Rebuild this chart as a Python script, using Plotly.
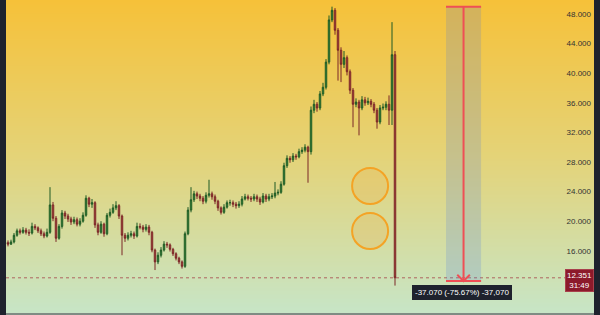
import base64, struct, zlib
import plotly.graph_objects as go

# ---------------- data ----------------
closes = [17.1,16.9,17.2,18.1,18.7,18.5,18.8,18.5,18.4,19.3,
          19.1,18.7,18.3,18.0,18.5,22.2,20.4,17.7,19.3,21.1,
          20.7,20.3,19.9,20.2,19.6,20.0,20.8,23.1,22.3,22.5,
          19.5,18.5,19.6,18.3,20.8,21.2,21.8,22.1,20.7,18.1,
          17.7,18.1,18.3,18.0,19.3,19.2,18.9,19.2,18.5,16.1,
          14.5,15.4,16.1,16.9,16.8,16.2,15.6,15.0,14.5,13.9,
          18.3,21.5,22.9,23.7,23.4,23.1,22.7,23.5,23.7,23.3,
          22.7,21.8,21.2,21.9,22.5,22.5,22.3,22.1,22.3,23.0,
          23.3,23.1,23.0,23.3,23.0,22.6,23.4,23.0,23.3,23.4,
          23.8,23.9,25.0,27.5,28.5,28.3,28.8,28.7,29.4,29.6,
          30.0,29.4,35.0,35.8,35.3,37.2,38.1,41.5,47.2,48.5,
          45.8,43.1,41.2,42.1,40.2,37.7,35.8,36.1,35.3,36.4,
          36.0,36.2,35.8,35.0,33.4,35.3,35.4,35.8,35.0,42.5,
          12.351]
highs = [17.5,17.4,17.5,18.4,19.0,19.0,19.2,19.1,18.9,19.8,
         19.6,19.3,19.0,18.6,19.0,24.6,22.6,20.7,19.6,21.5,
         21.4,21.0,20.6,20.6,20.5,20.4,21.2,23.5,23.3,23.0,
         22.7,19.8,20.0,19.8,21.1,21.7,22.3,22.7,22.3,20.9,
         18.4,18.5,18.7,18.6,19.8,19.7,19.5,19.6,19.5,18.7,
         16.3,15.8,16.5,17.3,17.2,17.0,16.4,15.8,15.2,14.7,
         18.6,21.9,24.6,24.1,24.0,23.7,23.4,23.9,25.6,24.0,
         23.6,22.9,22.0,22.3,22.8,22.9,22.8,22.6,22.7,23.4,
         23.7,23.6,23.4,23.7,23.6,23.3,23.8,23.7,23.7,23.8,
         25.3,24.3,25.4,27.9,28.9,28.8,29.2,29.1,29.8,30.0,
         30.4,30.2,35.5,36.4,36.1,37.6,38.7,41.9,47.8,48.99,
         48.8,46.1,43.5,43.0,42.4,40.5,38.0,36.6,36.4,36.9,
         36.8,36.7,36.5,36.1,35.3,35.7,35.9,36.2,37.0,46.9,
         43.0]
lows = [16.7,16.6,16.8,17.0,17.9,18.2,18.3,18.2,18.0,18.2,
        18.8,18.4,18.0,17.7,17.8,18.3,20.0,17.2,17.5,19.0,
        20.3,19.9,19.5,19.6,19.3,19.3,19.8,20.6,21.9,21.8,
        19.1,18.1,18.3,17.9,18.1,20.5,21.0,21.5,20.3,15.4,
        17.2,17.4,17.8,17.6,17.8,18.9,18.5,18.6,18.1,15.8,
        13.4,14.2,15.1,15.9,16.4,15.9,15.3,14.7,14.2,13.6,
        13.7,18.1,21.2,22.6,23.0,22.7,22.3,22.4,23.2,22.9,
        22.3,21.4,20.9,21.0,21.7,22.1,21.9,21.7,21.8,22.0,
        22.8,22.8,22.6,22.7,22.6,22.2,22.4,22.6,22.7,23.0,
        23.1,23.5,23.7,24.8,27.2,27.9,28.0,28.3,28.5,29.1,
        29.3,25.2,29.0,34.6,34.8,35.0,36.9,37.8,41.2,46.9,
        45.2,39.0,38.8,40.7,39.7,37.2,32.7,35.4,31.6,35.0,
        35.6,35.7,35.4,34.6,32.5,33.1,35.0,35.0,33.0,33.0,
        11.3]
first_open = 17.0
opens = [first_open] + closes[:-1]
idx = list(range(len(closes)))

y_ticks = [8, 16, 20, 24, 28, 32, 36, 40, 44, 48]
y_tick_text = [f"{v:.3f}" for v in y_ticks]

last_price = closes[-1]
countdown = "31:49"
measure_from = 48.99
measure_to = 11.92

# ---------------- layout constants ----------------
W, H = 600, 315
X_RANGE = [1 / 3, 1 / 3 + 196]
Y_RANGE = [7.595, 49.892]
MEASURE_X0, MEASURE_X1 = 147.0, 158.7
MEASURE_XC = (MEASURE_X0 + MEASURE_X1) / 2
CIRCLE_X = (115.7, 127.7)
CIRCLE1_Y = (22.32, 27.19)
CIRCLE2_Y = (16.24, 21.11)


def gradient_png(h, stops):
    rows = b""
    for r in range(h):
        t = r / (h - 1)
        for (t0, c0), (t1, c1) in zip(stops[:-1], stops[1:]):
            if t0 <= t <= t1:
                f = (t - t0) / (t1 - t0) if t1 > t0 else 0
                col = [int(round(a + (b - a) * f)) for a, b in zip(c0, c1)]
                break
        rows += b"\x00" + bytes(col) * 4
    def chunk(tag, data):
        c = struct.pack(">I", len(data)) + tag + data
        return c + struct.pack(">I", zlib.crc32(tag + data) & 0xffffffff)
    png = b"\x89PNG\r\n\x1a\n"
    png += chunk(b"IHDR", struct.pack(">IIBBBBB", 4, h, 8, 2, 0, 0, 0))
    png += chunk(b"IDAT", zlib.compress(rows))
    png += chunk(b"IEND", b"")
    return "data:image/png;base64," + base64.b64encode(png).decode()


bg = gradient_png(313, [(0.0, (246, 193, 57)), (0.5, (228, 211, 120)), (1.0, (199, 229, 198))])

fig = go.Figure()
fig.add_trace(go.Candlestick(
    x=idx, open=opens, high=highs, low=lows, close=closes,
    increasing=dict(line=dict(color="#1f5a24", width=1), fillcolor="#3e9a44"),
    decreasing=dict(line=dict(color="#7a2626", width=1), fillcolor="#c2504a"),
    whiskerwidth=0, showlegend=False, hoverinfo="skip",
))

shapes = []
# price line
shapes.append(dict(type="line", xref="paper", x0=0, x1=1, yref="y", y0=last_price, y1=last_price,
                   line=dict(color="rgba(170,80,80,0.85)", width=1, dash="dot"), layer="above"))
# measure box
shapes.append(dict(type="rect", xref="x", yref="y", x0=MEASURE_X0, x1=MEASURE_X1,
                   y0=measure_to, y1=measure_from, fillcolor="rgba(60,110,235,0.18)",
                   line=dict(width=0), layer="above"))
red = "#ef4f55"
for yy in (measure_from, measure_to):
    shapes.append(dict(type="line", xref="x", yref="y", x0=MEASURE_X0, x1=MEASURE_X1,
                       y0=yy, y1=yy, line=dict(color=red, width=2)))
shapes.append(dict(type="line", xref="x", yref="y", x0=MEASURE_XC, x1=MEASURE_XC,
                   y0=measure_from, y1=measure_to, line=dict(color=red, width=2)))
shapes.append(dict(type="path", xref="x", yref="y",
                   path=f"M {MEASURE_XC-2.1},{measure_to+0.85} L {MEASURE_XC},{measure_to} L {MEASURE_XC+2.1},{measure_to+0.85}",
                   line=dict(color=red, width=2)))
# circles
for cy in (CIRCLE1_Y, CIRCLE2_Y):
    shapes.append(dict(type="circle", xref="x", yref="y", x0=CIRCLE_X[0], x1=CIRCLE_X[1],
                       y0=cy[0], y1=cy[1], fillcolor="rgba(240,170,60,0.22)",
                       line=dict(color="#f4a325", width=2)))
# bottom strip
shapes.append(dict(type="rect", xref="paper", yref="paper", x0=0, x1=1, y0=-0.01, y1=0,
                   fillcolor="#7f8c84", line=dict(width=0)))

diff = measure_to - measure_from
pct = diff / measure_from * 100
measure_text = f"{diff:.3f} ({pct:.2f}%) " + f"{diff:.3f}".replace(".", ",")

annotations = [
    dict(xref="paper", x=1, xanchor="right", yref="y", y=last_price, yanchor="middle", yshift=-3,
         text=f"{last_price:.3f}<br>{countdown}", showarrow=False, align="center",
         font=dict(color="white", size=8, family="Liberation Sans, Arial"),
         bgcolor="#8c1a2b", bordercolor="#a8404c", borderwidth=1, borderpad=1),
    dict(xref="x", x=MEASURE_XC - 0.4, yref="y", y=10.3, showarrow=False, text=measure_text,
         font=dict(color="white", size=8, family="Liberation Sans, Arial"),
         bgcolor="#1e222d", bordercolor="#1e222d", borderwidth=1, borderpad=2),
]

fig.update_layout(
    width=W, height=H,
    margin=dict(l=6, r=6, t=0, b=2),
    paper_bgcolor="#1e222d", plot_bgcolor="rgba(0,0,0,0)",
    images=[dict(source=bg, xref="paper", yref="paper", x=0, y=1, sizex=1, sizey=1,
                 sizing="stretch", layer="below", xanchor="left", yanchor="top")],
    shapes=shapes, annotations=annotations,
    xaxis=dict(range=X_RANGE, showticklabels=False, showgrid=False, zeroline=False,
               rangeslider=dict(visible=False), fixedrange=True),
    yaxis=dict(range=Y_RANGE, side="right", ticklabelposition="inside", tickvals=y_ticks,
               ticktext=y_tick_text, showgrid=False, zeroline=False, ticks="",
               tickfont=dict(size=8, color="#333333", family="Liberation Sans, Arial")),
    showlegend=False,
)

fig.write_html("out.html")
